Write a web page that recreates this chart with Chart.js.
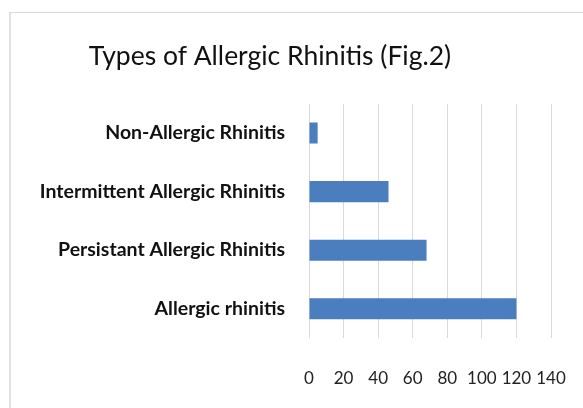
<!DOCTYPE html>
<html>
<head>
<meta charset="utf-8">
<script src="https://cdn.jsdelivr.net/npm/chart.js@4.4.1/dist/chart.umd.min.js"></script>
<style>
  html, body { margin: 0; padding: 0; background: #fff; }
  #wrap { position: relative; width: 583px; height: 408px; overflow: hidden; }
  /* marco gris claro del gráfico */
  #frame { position: absolute; left: 9px; top: 12px; width: 600px; height: 420px;
           border-top: 1px solid #d9d9d9; border-left: 2px solid #e2e2e2; }
  #chart { position: absolute; left: 0; top: 0; }
</style>
</head>
<body>
<div id="wrap">
  <div id="frame"></div>
  <canvas id="chart" width="583" height="408"></canvas>
</div>
<script>
// Datos (de arriba hacia abajo)
const categories = [
    'Non-Allergic Rhinitis',
    'Intermittent Allergic Rhinitis',
    'Persistant Allergic Rhinitis',
    'Allergic rhinitis'
];
const counts = [5, 46, 68, 120];
const xTicks = [0, 20, 40, 60, 80, 100, 120, 140];

const FONT = 'Lato, "Open Sans", sans-serif';

const ctx = document.getElementById('chart');
new Chart(ctx, {
    type: 'bar',
    data: {
        labels: categories,
        datasets: [{
            data: counts,
            backgroundColor: '#4a7ebf',
            borderWidth: 0,
            categoryPercentage: 1,
            barPercentage: 0.36
        }]
    },
    options: {
        indexAxis: 'y',
        responsive: false,
        animation: false,
        // padding izquierdo negativo para centrar el título como en el original
        layout: { padding: { left: -11, right: 32, top: 0, bottom: 0 } },
        scales: {
            x: {
                min: 0,
                max: 140,
                afterBuildTicks: axis => { axis.ticks = xTicks.map(v => ({ value: v })); },
                afterFit: axis => {
                    axis.height = 70;
                    // el padding de los ticks no debe comerse el ancho del área
                    axis.paddingLeft = 0;
                    axis.paddingRight = 0;
                },
                grid: { color: '#d9d9d9', drawTicks: false, lineWidth: 1 },
                border: { display: false },
                ticks: {
                    color: '#222',
                    padding: 30,
                    autoSkip: false,
                    minRotation: 0,
                    maxRotation: 0,
                    font: { family: FONT, size: 17 }
                }
            },
            y: {
                grid: { display: false, drawTicks: false },
                border: { display: false },
                afterFit: axis => { axis.width = 320; },
                ticks: {
                    color: '#111',
                    padding: 24,
                    font: { family: FONT, size: 19.5, weight: 'bold' }
                }
            }
        },
        plugins: {
            legend: { display: false },
            tooltip: { enabled: false },
            title: {
                display: true,
                text: 'Types of Allergic Rhinitis (Fig.2)',
                color: '#111',
                font: { family: FONT, size: 26.5, weight: 'normal' },
                padding: { top: 41, bottom: 31 }
            }
        }
    }
});
</script>
</body>
</html>
